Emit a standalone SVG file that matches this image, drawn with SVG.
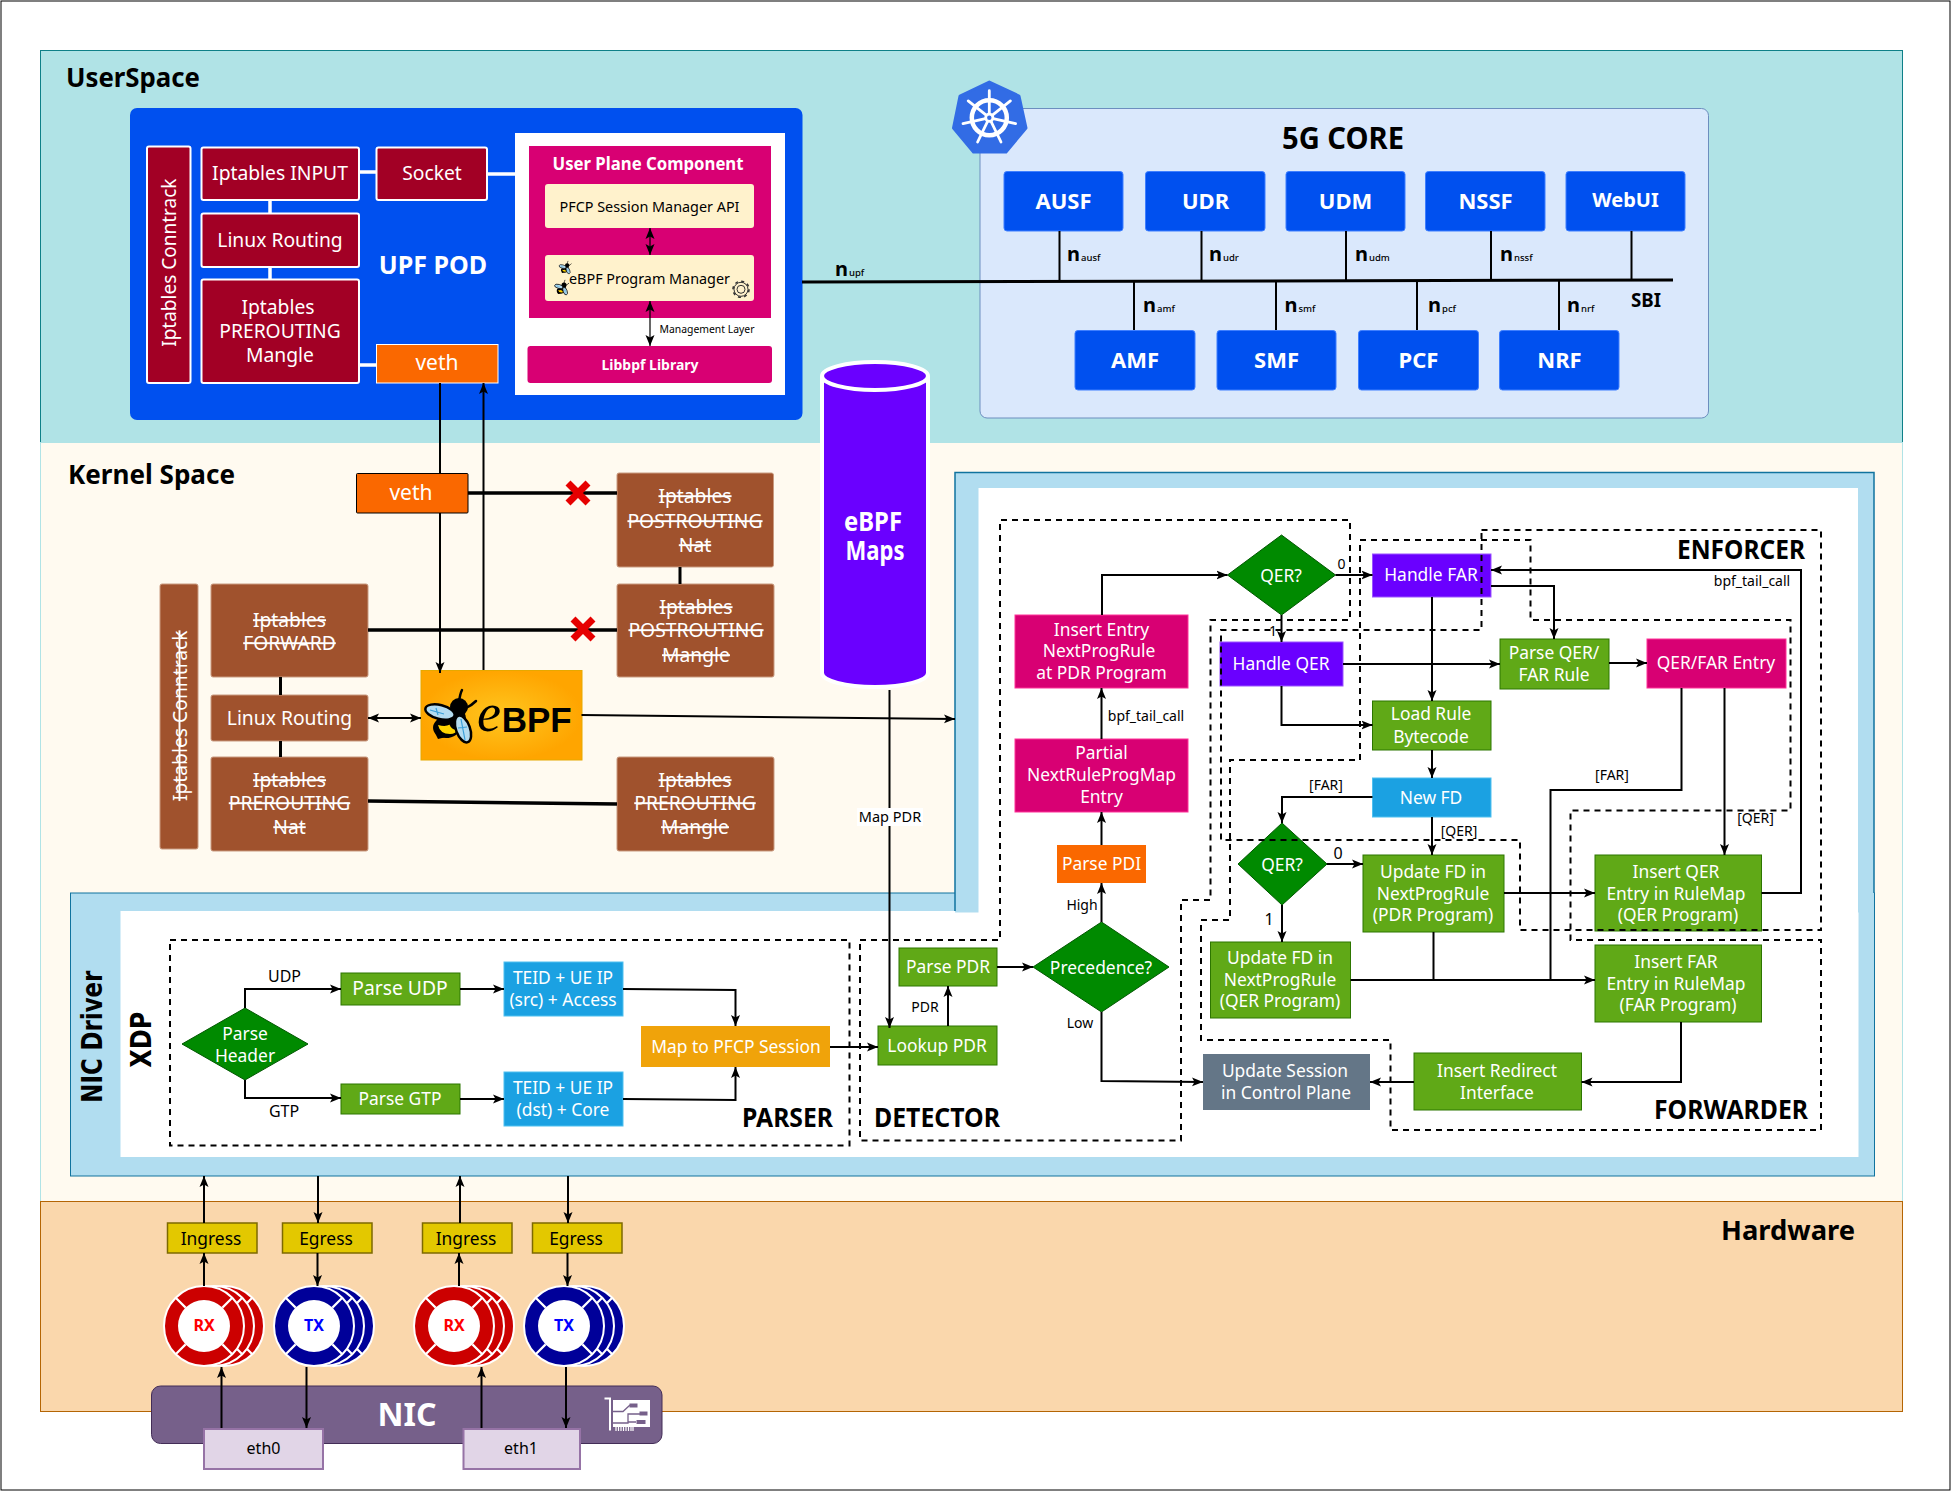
<svg xmlns="http://www.w3.org/2000/svg" width="1951" height="1491" viewBox="0 0 1951 1491">
<style>
text{font-family:"Noto Sans","Open Sans","DejaVu Sans",sans-serif;text-anchor:middle;dominant-baseline:central;fill:#fff;font-size:17.400px;translate:0 -1.300px}
.h{font-weight:700;fill:#000;font-size:27px;text-anchor:start;dominant-baseline:auto;translate:none}
.raw{dominant-baseline:auto;translate:none;fill:#000}
.k{font-size:19.300px;text-decoration:line-through}
.d{font-size:19.300px}
.b{font-weight:700;font-size:22px}
.l{fill:#000;font-size:14px}
.n{font-weight:700;font-size:20px;fill:#000;text-anchor:start;dominant-baseline:auto;translate:none}
.n tspan{font-size:9.500px;font-weight:500}
.i{font-size:19.300px}
rect{stroke-width:1}
.ipt{fill:#a20025;stroke:#fff;stroke-width:2}
.brown{fill:#a0522d;stroke:#c99a80;stroke-width:1}
.core{fill:#0050ef;stroke:#3f7fff;stroke-width:1}
.green{fill:#60a917;stroke:#2d7600;stroke-width:1}
.pink{fill:#d80073;stroke:#ff3399;stroke-width:1}
.violet{fill:#6a00ff;stroke:#9b55ff;stroke-width:1}
.sky{fill:#1ba1e2;stroke:#4fc0f0;stroke-width:1}
.dia{fill:#008a00;stroke:#005700;stroke-width:1}
.yel{fill:#e3c800;stroke:#7d6a00;stroke-width:1.500}
.eth{fill:#e1d5e7;stroke:#9673a6;stroke-width:2}
.cream{fill:#fff2cc}
.dash{fill:none;stroke:#000;stroke-width:2;stroke-dasharray:6 5}
.c{fill:none;stroke:#000;stroke-width:2}
.c3{fill:none;stroke:#000;stroke-width:3}
.w{fill:none;stroke:#fff;stroke-width:3.500}
.a{marker-end:url(#arr)}
.aa{marker-end:url(#arr);marker-start:url(#arrs)}
</style>
<defs>
<marker id="arr" markerUnits="userSpaceOnUse" markerWidth="12" markerHeight="12" refX="11" refY="6" orient="auto"><path d="M0,1.500 L11,6 L0,10.500 L2.500,6z" fill="#000"/></marker>
<marker id="arrs" markerUnits="userSpaceOnUse" markerWidth="12" markerHeight="12" refX="1" refY="6" orient="auto"><path d="M12,1.500 L1,6 L12,10.500 L9.500,6z" fill="#000"/></marker>
<radialGradient id="ebg"><stop offset="0" stop-color="#ffc61f"/><stop offset="1" stop-color="#ffa500"/></radialGradient>
<g id="disc"><circle r="40" fill="currentColor" stroke="#fff" stroke-width="2"/><circle r="26" fill="#fff"/><path d="M18.400,18.400L28.300,28.300M-18.400,18.400L-28.300,28.300M18.400,-18.400L28.300,-28.300M-18.400,-18.400L-28.300,-28.300" stroke="#fff" stroke-width="2.200"/></g>
<g id="stack"><use href="#disc" x="20"/><use href="#disc" x="10"/><use href="#disc"/></g>
<g id="bee">
<path d="M9,-14Q10,-22 12,-26M16,-8Q22,-11 26,-15" fill="none" stroke="#000" stroke-width="2.500" stroke-linecap="round"/>
<path d="M-15,17L-12,23L-4,21Z" fill="#000"/>
<ellipse cx="-3" cy="11" rx="14" ry="11" fill="#000" transform="rotate(-8 -3 11)"/>
<path d="M-12,9Q-10,18 0,18Q6,18 8,13L2,5Q0,12 -12,9Z" fill="#ffd400"/>
<circle cx="9" cy="-9" r="9" fill="#000"/>
<ellipse cx="7" cy="3" rx="9" ry="11" fill="#000"/>
<ellipse cx="-10" cy="-4" rx="15" ry="7" fill="#b4dcf0" stroke="#000" stroke-width="2.500" transform="rotate(14 -10 -4)"/>
<ellipse cx="13" cy="13" rx="7" ry="14" fill="#b4dcf0" stroke="#000" stroke-width="2.500" transform="rotate(-20 13 13)"/>
<path d="M-20,-6L-6,-2M-14,-8L-12,-1M11,3L15,24M8,12L17,11" stroke="#3a9fd8" stroke-width="1.200"/>
</g>
</defs>

<rect id="frame" x="1" y="1" width="1949" height="1489" fill="#fff" stroke="#000" stroke-width="2"/>
<g id="bands">
<rect x="40.500" y="50.500" width="1862" height="392" fill="#b0e3e6" stroke="#0e8088"/>
<rect x="40.500" y="442.500" width="1862" height="759" fill="#fffaf0" stroke="#b0e3e6"/>
<rect x="40.500" y="1201.500" width="1862" height="210" fill="#fad7ac" stroke="#b46504"/>
<text class="h" x="66" y="87" textLength="134" lengthAdjust="spacingAndGlyphs">UserSpace</text>
<text class="h" x="68" y="484" textLength="167" lengthAdjust="spacingAndGlyphs">Kernel Space</text>
<text class="h" x="1721" y="1240" textLength="134" lengthAdjust="spacingAndGlyphs">Hardware</text>
</g>

<g id="panels">
<rect x="70.500" y="893" width="1804" height="283" fill="#b1ddf0" stroke="#10739e" stroke-width="1.500"/>
<rect x="120.500" y="911" width="1738" height="246" fill="#fff"/>
<rect x="955" y="472.500" width="919" height="440" fill="#b1ddf0"/>
<path d="M955,911V472.500H1874V893" fill="none" stroke="#10739e" stroke-width="1.500"/>
<rect x="978.500" y="488" width="879.500" height="440" fill="#fff"/>
<text class="b" style="fill:#000;font-size:28px;font-family:'DejaVu Sans',sans-serif" transform="translate(92 1038) rotate(-90)" textLength="132" lengthAdjust="spacingAndGlyphs">NIC Driver</text>
<text class="b" style="fill:#000;font-size:28px;font-family:'DejaVu Sans',sans-serif" transform="translate(141 1041) rotate(-90)" textLength="56" lengthAdjust="spacingAndGlyphs">XDP</text>
</g>

<g id="upf-pod">
<rect x="130" y="108" width="672.500" height="312" rx="7" fill="#0050ef"/>
<text class="b" x="433" y="265" style="font-size:25px">UPF POD</text>
</g>
<g id="upf-conntrack"><rect class="ipt" x="147" y="146.500" width="43.500" height="236.500" rx="2"/><text class="i" transform="translate(169 264) rotate(-90)" style="font-size:19px">Iptables Conntrack</text></g>
<g id="upf-input"><rect class="ipt" x="201.500" y="147.500" width="157.500" height="52.500" rx="2"/><text class="i" x="280" y="174">Iptables INPUT</text></g>
<g id="upf-socket"><rect class="ipt" x="376.500" y="147.500" width="110.500" height="52.500" rx="2"/><text class="i" x="432" y="174">Socket</text></g>
<g id="upf-routing"><rect class="ipt" x="201.500" y="213.500" width="157.500" height="53.500" rx="2"/><text class="i" x="280" y="241">Linux Routing</text></g>
<g id="upf-prerouting"><rect class="ipt" x="201.500" y="279.500" width="157.500" height="103.500" rx="2"/><text class="i" x="278" y="308">Iptables</text><text class="i" x="280" y="332">PREROUTING</text><text class="i" x="280" y="356">Mangle</text></g>
<g id="upf-veth"><rect x="376.500" y="344.500" width="121.500" height="38.500" fill="#fa6800" stroke="#fff" stroke-width="2"/><text class="i" x="437" y="363" style="font-size:21px">veth</text></g>
<g id="upc">
<rect x="515" y="133" width="270" height="262" fill="#fff"/>
<rect x="529" y="146" width="242" height="172" fill="#d80073"/>
<text x="648" y="164" style="font-weight:700;font-size:17.500px" textLength="191" lengthAdjust="spacingAndGlyphs">User Plane Component</text>
</g>
<g id="pfcp-api"><rect class="cream" x="545" y="184" width="209" height="44" rx="3"/><text x="649.500" y="207" style="fill:#000;font-size:14.500px" textLength="180" lengthAdjust="spacingAndGlyphs">PFCP Session Manager API</text></g>
<g id="ebpf-manager"><rect class="cream" x="545" y="255" width="209" height="46" rx="3"/><text x="649.500" y="279" style="fill:#000;font-size:14.500px" textLength="161" lengthAdjust="spacingAndGlyphs">eBPF Program Manager</text>
<use href="#bee" transform="translate(565 267.500) scale(.24)"/><use href="#bee" transform="translate(561.500 287.500) scale(.28)"/>
<circle cx="741" cy="289.300" r="4" fill="none" stroke="#333" stroke-width="1"/><circle cx="741" cy="289.300" r="7" fill="none" stroke="#333" stroke-width="1"/><circle cx="741" cy="289.300" r="8" fill="none" stroke="#333" stroke-width="1.600" stroke-dasharray="3 3.280"/>
</g>
<g id="libbpf"><rect x="527.500" y="346" width="244.500" height="37" rx="3" fill="#d80073"/><text x="650" y="365" style="font-weight:700;font-size:14.500px" textLength="97" lengthAdjust="spacingAndGlyphs">Libbpf Library</text></g>

<g id="core-panel"><rect x="980" y="108.500" width="728.500" height="309.500" rx="7" fill="#dae8fc" stroke="#6c8ebf" stroke-width="2.500"/>
<text class="b" x="1343" y="139" style="fill:#000;font-size:30px" textLength="122" lengthAdjust="spacingAndGlyphs">5G CORE</text></g>
<g id="k8s-logo"><path d="M989.300,82L1019,96L1026,128L1006,152L973.500,152L953.500,128L960,96Z" fill="#326ce5" stroke="#326ce5" stroke-width="3" stroke-linejoin="round"/>
<g transform="translate(989.300 117.700)"><circle r="17.500" fill="none" stroke="#fff" stroke-width="4.500"/>
<path d="M0,-4V-27M3.100,-2.500L21.100,-16.800M3.900,.9L26.300,6M1.700,3.600L11.700,24.300M-1.700,3.600L-11.700,24.300M-3.900,.9L-26.300,6M-3.100,-2.500L-21.100,-16.800" stroke="#fff" stroke-width="2.800" stroke-linecap="round"/>
<circle r="5" fill="#fff"/><circle r="2.200" fill="#326ce5"/></g></g>
<g id="ausf"><rect class="core" x="1004" y="171.500" width="119" height="59.500" rx="3"/><text class="b" x="1063.500" y="201">AUSF</text></g>
<g id="udr"><rect class="core" x="1145.500" y="171.500" width="119.500" height="59.500" rx="3"/><text class="b" x="1205.500" y="201">UDR</text></g>
<g id="udm"><rect class="core" x="1286" y="171.500" width="119" height="59.500" rx="3"/><text class="b" x="1345.500" y="201">UDM</text></g>
<g id="nssf"><rect class="core" x="1425.500" y="171.500" width="119.500" height="59.500" rx="3"/><text class="b" x="1485.500" y="201">NSSF</text></g>
<g id="webui"><rect class="core" x="1566" y="171.500" width="119" height="59.500" rx="3"/><text class="b" x="1625.500" y="201" style="font-size:20px">WebUI</text></g>
<g id="amf"><rect class="core" x="1075" y="330.500" width="120" height="59.500" rx="3"/><text class="b" x="1135" y="360">AMF</text></g>
<g id="smf"><rect class="core" x="1217" y="330.500" width="119" height="59.500" rx="3"/><text class="b" x="1276.500" y="360">SMF</text></g>
<g id="pcf"><rect class="core" x="1358.500" y="330.500" width="120" height="59.500" rx="3"/><text class="b" x="1418.500" y="360">PCF</text></g>
<g id="nrf"><rect class="core" x="1499.500" y="330.500" width="119.500" height="59.500" rx="3"/><text class="b" x="1559.500" y="360">NRF</text></g>

<g id="kernel-veth"><rect x="356.500" y="473.500" width="111.500" height="39.500" rx="1" fill="#fa6800" stroke="#000" stroke-width="2"/><text class="i" x="411" y="493" style="font-size:21px">veth</text></g>
<g id="post-nat"><rect class="brown" x="617" y="473" width="156.500" height="94" rx="2"/><text class="k" x="695" y="497">Iptables</text><text class="k" x="695" y="522">POSTROUTING</text><text class="k" x="695" y="546">Nat</text></g>
<g id="post-mangle"><rect class="brown" x="617" y="584" width="157" height="93" rx="2"/><text class="k" x="696" y="608">Iptables</text><text class="k" x="696" y="631">POSTROUTING</text><text class="k" x="696" y="656">Mangle</text></g>
<g id="forward"><rect class="brown" x="211" y="584" width="157" height="93" rx="2"/><text class="k" x="289.500" y="621">Iptables</text><text class="k" x="289.500" y="644">FORWARD</text></g>
<g id="k-conntrack"><rect class="brown" x="160" y="584" width="38" height="265" rx="2"/><text class="k" transform="translate(179 717) rotate(-90)">Iptables Conntrack</text></g>
<g id="k-routing"><rect class="brown" x="211" y="695" width="157" height="46" rx="2"/><text class="d" x="289.500" y="719">Linux Routing</text></g>
<g id="pre-nat"><rect class="brown" x="211" y="757" width="157" height="94" rx="2"/><text class="k" x="289.500" y="781">Iptables</text><text class="k" x="289.500" y="804">PREROUTING</text><text class="k" x="289.500" y="828">Nat</text></g>
<g id="pre-mangle"><rect class="brown" x="617" y="757" width="157" height="94" rx="2"/><text class="k" x="695" y="781">Iptables</text><text class="k" x="695" y="804">PREROUTING</text><text class="k" x="695" y="828">Mangle</text></g>
<g id="ebpf-logo"><rect x="421" y="670.500" width="161" height="89.500" fill="url(#ebg)" stroke="#e6a800"/>
<use href="#bee" transform="translate(450 716)"/>
<text class="raw" x="489" y="731" style="font-size:54px;font-style:italic;font-family:'Liberation Serif',serif">e</text>
<text class="raw" x="536.700" y="731.500" style="font-size:35px;font-weight:700;font-family:'Liberation Sans',sans-serif" textLength="70" lengthAdjust="spacingAndGlyphs">BPF</text></g>
<g id="ebpf-maps"><path d="M822,376V673a53,14 0 0 0 106,0V376" fill="#6a00ff" stroke="#fff" stroke-width="4"/><ellipse cx="875" cy="376" rx="53" ry="14" fill="#6a00ff" stroke="#fff" stroke-width="4"/>
<text class="b" x="873" y="522" style="font-size:26px" textLength="58" lengthAdjust="spacingAndGlyphs">eBPF</text><text class="b" x="875" y="551" style="font-size:26px" textLength="59" lengthAdjust="spacingAndGlyphs">Maps</text></g>

<g id="parse-header"><path class="dia" d="M245,1008L308,1044L245,1080L182,1044Z"/><text x="245" y="1034">Parse</text><text x="245" y="1056">Header</text></g>
<g id="parse-udp"><rect class="green" x="341" y="973" width="119" height="32"/><text class="d" x="400" y="989">Parse UDP</text></g>
<g id="parse-gtp"><rect class="green" x="341" y="1084" width="119" height="30"/><text x="400" y="1099">Parse GTP</text></g>
<g id="teid-src"><rect class="sky" x="504" y="962" width="119" height="54"/><text x="563" y="978">TEID + UE IP</text><text x="563" y="1000">(src) + Access</text></g>
<g id="teid-dst"><rect class="sky" x="504" y="1072" width="119" height="54"/><text x="563" y="1088">TEID + UE IP</text><text x="563" y="1110">(dst) + Core</text></g>
<g id="map-pfcp"><rect x="641" y="1026" width="189" height="41" fill="#f0a30a"/><text x="736" y="1047">Map to PFCP Session</text></g>
<g id="lookup-pdr"><rect class="green" x="878" y="1026" width="119" height="39"/><text x="937" y="1046">Lookup PDR</text></g>
<g id="parse-pdr"><rect class="green" x="899" y="948" width="98" height="38"/><text x="948" y="967">Parse PDR</text></g>
<g id="precedence"><path class="dia" d="M1101.500,922L1169,967L1101.500,1012L1033,967Z"/><text x="1101" y="968">Precedence?</text></g>
<g id="parse-pdi"><rect x="1057" y="845" width="89" height="38" fill="#fa6800"/><text x="1101.500" y="864">Parse PDI</text></g>
<g id="partial"><rect class="pink" x="1015" y="739" width="173" height="73"/><text x="1101.500" y="753">Partial</text><text x="1101.500" y="775">NextRuleProgMap</text><text x="1101.500" y="797">Entry</text></g>
<g id="insert-entry"><rect class="pink" x="1015" y="615" width="173" height="73"/><text x="1101.500" y="630">Insert Entry</text><text x="1099" y="651">NextProgRule</text><text x="1101.500" y="673">at PDR Program</text></g>
<g id="qer1"><path class="dia" d="M1281.500,535L1335.500,575L1281.500,615L1227.500,575Z"/><text x="1281" y="576">QER?</text></g>
<g id="handle-far"><rect class="violet" x="1372.500" y="554" width="118.500" height="43"/><text x="1431" y="575">Handle FAR</text></g>
<g id="handle-qer"><rect class="violet" x="1220" y="642" width="123" height="44"/><text x="1281" y="664">Handle QER</text></g>
<g id="parse-qer"><rect class="green" x="1500" y="639" width="109" height="50"/><text x="1554" y="653">Parse QER/</text><text x="1554" y="675">FAR Rule</text></g>
<g id="qerfar"><rect class="pink" x="1647" y="639" width="139" height="49"/><text x="1716" y="663">QER/FAR Entry</text></g>
<g id="load-rule"><rect class="green" x="1372.500" y="701" width="118.500" height="49"/><text x="1431" y="714">Load Rule</text><text x="1431" y="737">Bytecode</text></g>
<g id="new-fd"><rect class="sky" x="1372.500" y="778" width="118.500" height="39"/><text x="1431" y="798">New FD</text></g>
<g id="qer2"><path class="dia" d="M1282,823L1327,864L1282,905L1238,864Z"/><text x="1282" y="865">QER?</text></g>
<g id="update-pdr"><rect class="green" x="1363" y="855" width="141" height="77"/><text x="1433" y="872">Update FD in</text><text x="1433" y="894">NextProgRule</text><text x="1433" y="915">(PDR Program)</text></g>
<g id="update-qer"><rect class="green" x="1210.500" y="942" width="140" height="76"/><text x="1280" y="958">Update FD in</text><text x="1280" y="980">NextProgRule</text><text x="1280" y="1001">(QER Program)</text></g>
<g id="insert-qer"><rect class="green" x="1595" y="855" width="166.500" height="76"/><text x="1676" y="872">Insert QER</text><text x="1676" y="894">Entry in RuleMap</text><text x="1678" y="915">(QER Program)</text></g>
<g id="insert-far"><rect class="green" x="1595" y="945" width="166.500" height="77"/><text x="1676" y="962">Insert FAR</text><text x="1676" y="984">Entry in RuleMap</text><text x="1678" y="1005">(FAR Program)</text></g>
<g id="update-session"><rect x="1203" y="1054" width="167" height="56" fill="#647687"/><text x="1285" y="1071">Update Session</text><text x="1286" y="1093">in Control Plane</text></g>
<g id="insert-redirect"><rect class="green" x="1414" y="1053" width="167.500" height="57"/><text x="1497" y="1071">Insert Redirect</text><text x="1497" y="1093">Interface</text></g>

<g id="dashed">
<path class="dash" d="M170,940H849.500V1145.500H170Z"/>
<path class="dash" d="M860,940H1000V520H1350V620H1210.500V900H1181V1140.500H860Z"/>
<path class="dash" d="M1481.500,530H1821V930H1520V840H1221V630H1481.500Z"/>
<path class="dash" d="M1360,540H1530.500V620H1790.500V810.500H1570.500V940H1821V1130H1390.500V1040H1201V920H1230V760H1360Z"/>
<text class="h" x="742" y="1127" textLength="91" lengthAdjust="spacingAndGlyphs">PARSER</text>
<text class="h" x="874" y="1127" textLength="126" lengthAdjust="spacingAndGlyphs">DETECTOR</text>
<text class="h" x="1677" y="559" textLength="128" lengthAdjust="spacingAndGlyphs">ENFORCER</text>
<text class="h" x="1654" y="1119" textLength="154" lengthAdjust="spacingAndGlyphs">FORWARDER</text>
</g>

<g id="hardware">
<g id="nic"><rect x="151.500" y="1386" width="510.500" height="57.500" rx="9" fill="#76608a" stroke="#432d57" stroke-width="1.500"/><text x="407" y="1415" style="font-weight:700;font-size:32px">NIC</text>
<g id="nic-icon"><path d="M604.500,1397.500H611V1430.500H609V1399.500H604.500Z" fill="#fff"/><rect x="613" y="1400" width="37" height="27" fill="#fff"/><path d="M613,1411.500H623L630,1405M613,1423H628V1414H640M628,1422H636" fill="none" stroke="#76608a" stroke-width="1.300"/><path d="M629.500,1403.500h8v4h-8zM639.500,1411.500h8v4h-8zM636.500,1420h9v4h-9z" fill="#76608a"/><path d="M616,1427V1431M618.500,1427V1431M621,1427V1431M623.500,1427V1431M626,1427V1431M628.500,1427V1431M631,1427V1431M633,1427V1431" stroke="#fff" stroke-width="1.200"/></g></g>
<g id="eth0"><rect class="eth" x="204" y="1429" width="119" height="40"/><text x="263.500" y="1449" style="fill:#000;font-size:16px">eth0</text></g>
<g id="eth1"><rect class="eth" x="463.500" y="1429" width="116.500" height="40"/><text x="521" y="1449" style="fill:#000;font-size:16px">eth1</text></g>
<g id="rx0" color="#cc0000"><use href="#stack" x="204" y="1326"/><text x="204" y="1326" style="fill:#f00;font-weight:700;font-size:16px">RX</text></g>
<g id="tx0" color="#000099"><use href="#stack" x="314" y="1326"/><text x="314" y="1326" style="fill:#00f;font-weight:700;font-size:16px">TX</text></g>
<g id="rx1" color="#cc0000"><use href="#stack" x="454" y="1326"/><text x="454" y="1326" style="fill:#f00;font-weight:700;font-size:16px">RX</text></g>
<g id="tx1" color="#000099"><use href="#stack" x="564" y="1326"/><text x="564" y="1326" style="fill:#00f;font-weight:700;font-size:16px">TX</text></g>
<g id="ingress0"><rect class="yel" x="167.500" y="1223" width="89.500" height="30"/><text x="211" y="1239" style="fill:#000">Ingress</text></g>
<g id="egress0"><rect class="yel" x="282.500" y="1223" width="89.500" height="30"/><text x="326" y="1239" style="fill:#000">Egress</text></g>
<g id="ingress1"><rect class="yel" x="422.500" y="1223" width="89.500" height="30"/><text x="466" y="1239" style="fill:#000">Ingress</text></g>
<g id="egress1"><rect class="yel" x="532.500" y="1223" width="89.500" height="30"/><text x="576" y="1239" style="fill:#000">Egress</text></g>
</g>

<g id="connectors">
<path class="w" d="M359,172H376M487,174H515M270,200V213M270,267V279M359,365H376"/>
<path class="c" style="stroke-width:1.200" d="M650,228V255" marker-end="url(#arr)" marker-start="url(#arrs)"/>
<path class="c" style="stroke-width:1.200" d="M650,301V346" marker-end="url(#arr)" marker-start="url(#arrs)"/>
<path class="c3" d="M802,282L1673,280"/>
<path class="c" d="M1059.500,231V281M1201.500,231V281M1346,231V281M1491,231V281M1631.500,231V281M1134,281V330M1276,281V330M1417,281V330M1559,281V330"/>
<path class="c" d="M440,383V473"/><path class="c a" d="M440,513V673"/><path class="c a" d="M483.500,670V383"/>
<path class="c3" style="stroke-width:3.500" d="M468,493H617M368,630H617M368,801L617,804"/>
<path class="c3" d="M680,567V584M280.500,677V695M280.500,741V757"/>
<path class="c aa" d="M368,718H421"/>
<path class="c a" d="M581.500,715L955,719"/>
<path class="c a" d="M889.500,690V1028"/>
<path class="c a" d="M245,1008V989H341"/><path class="c a" d="M245,1080V1098H341"/>
<path class="c a" d="M460,989H504"/><path class="c a" d="M460,1099H504"/>
<path class="c a" d="M623,989L735.500,990V1026"/><path class="c a" d="M623,1099L735.500,1100V1067"/>
<path class="c a" d="M830,1047H878"/><path class="c a" d="M948,1026V986"/><path class="c a" d="M997,967H1033"/>
<path class="c a" d="M1101.500,922V883"/><path class="c a" d="M1101.500,1012V1081L1203,1082"/>
<path class="c a" d="M1101.500,845V812"/><path class="c a" d="M1101.500,739V688"/>
<path class="c a" d="M1102,615V575H1227.500"/><path class="c a" d="M1335.500,575H1372.500"/><path class="c a" d="M1281.500,615V642"/>
<path class="c a" d="M1432,597V701"/><path class="c a" d="M1491,586H1554V639"/><path class="c a" d="M1343,664H1500"/>
<path class="c a" d="M1281.500,686V725H1372.500"/><path class="c a" d="M1609,663H1647"/>
<path class="c" d="M1681.500,688V790H1550.500V980"/><path class="c a" d="M1724.500,688V855"/>
<path class="c a" d="M1432,750V778"/><path class="c a" d="M1372.500,797H1282V823"/><path class="c a" d="M1432,817V855"/>
<path class="c a" d="M1327,864H1363"/><path class="c a" d="M1282,905V942"/><path class="c a" d="M1504,893H1595"/>
<path class="c" d="M1433.500,932V980"/><path class="c a" d="M1350.500,980H1595"/>
<path class="c a" d="M1761.500,893H1801V570H1491"/><path class="c a" d="M1681,1022V1082H1581.500"/><path class="c a" d="M1414,1082H1370"/>
<path class="c a" d="M204,1223V1176"/><path class="c a" d="M318,1176V1223"/><path class="c a" d="M460,1223V1176"/><path class="c a" d="M568,1176V1223"/>
<path class="c a" d="M204,1286V1253"/><path class="c a" d="M317.500,1253V1286"/><path class="c a" d="M459,1286V1253"/><path class="c a" d="M567.500,1253V1286"/>
<path class="c a" d="M221.500,1428V1367"/><path class="c a" d="M306.500,1367V1428"/><path class="c a" d="M481.500,1428V1367"/><path class="c a" d="M566,1367V1428"/>
<path d="M568,483L588,503M588,483L568,503" stroke="#e60000" stroke-width="7"/>
<path d="M573,619L593,639M593,619L573,639" stroke="#e60000" stroke-width="7"/>
</g>

<g id="connector-labels">
<rect x="857" y="808" width="66" height="18" fill="#fff"/>
<text class="l" x="890" y="817" style="font-size:14.500px">Map PDR</text>
<text class="l" x="707" y="330" style="font-size:10.400px">Management Layer</text>
<text class="n" x="835" y="276">n<tspan dx="1">upf</tspan></text>
<text class="n" x="1067" y="261">n<tspan dx="1">ausf</tspan></text><text class="n" x="1209" y="261">n<tspan dx="1">udr</tspan></text><text class="n" x="1355" y="261">n<tspan dx="1">udm</tspan></text><text class="n" x="1500" y="261">n<tspan dx="1">nssf</tspan></text>
<text class="n" x="1143" y="312">n<tspan dx="1">amf</tspan></text><text class="n" x="1284.500" y="312">n<tspan dx="1">smf</tspan></text><text class="n" x="1428" y="312">n<tspan dx="1">pcf</tspan></text><text class="n" x="1567" y="312">n<tspan dx="1">nrf</tspan></text>
<text class="h" x="1631" y="307" style="font-size:19px" textLength="30" lengthAdjust="spacingAndGlyphs">SBI</text>
<text class="l" x="284.500" y="977" style="font-size:16px">UDP</text><text class="l" x="284" y="1112" style="font-size:16px">GTP</text>
<text class="l" x="925" y="1008">PDR</text><text class="l" x="1082" y="906">High</text><text class="l" x="1080" y="1024">Low</text>
<text class="l" x="1146" y="717">bpf_tail_call</text><text class="l" x="1752" y="582">bpf_tail_call</text>
<text class="l" x="1341.500" y="565">0</text><text class="l" x="1273" y="632">1</text>
<text class="l" x="1612" y="776">[FAR]</text><text class="l" x="1755.500" y="819">[QER]</text><text class="l" x="1326" y="786">[FAR]</text><text class="l" x="1459" y="832">[QER]</text>
<text class="l" x="1338" y="854" style="font-size:16px">0</text><text class="l" x="1269" y="920" style="font-size:16px">1</text>
</g>
</svg>
